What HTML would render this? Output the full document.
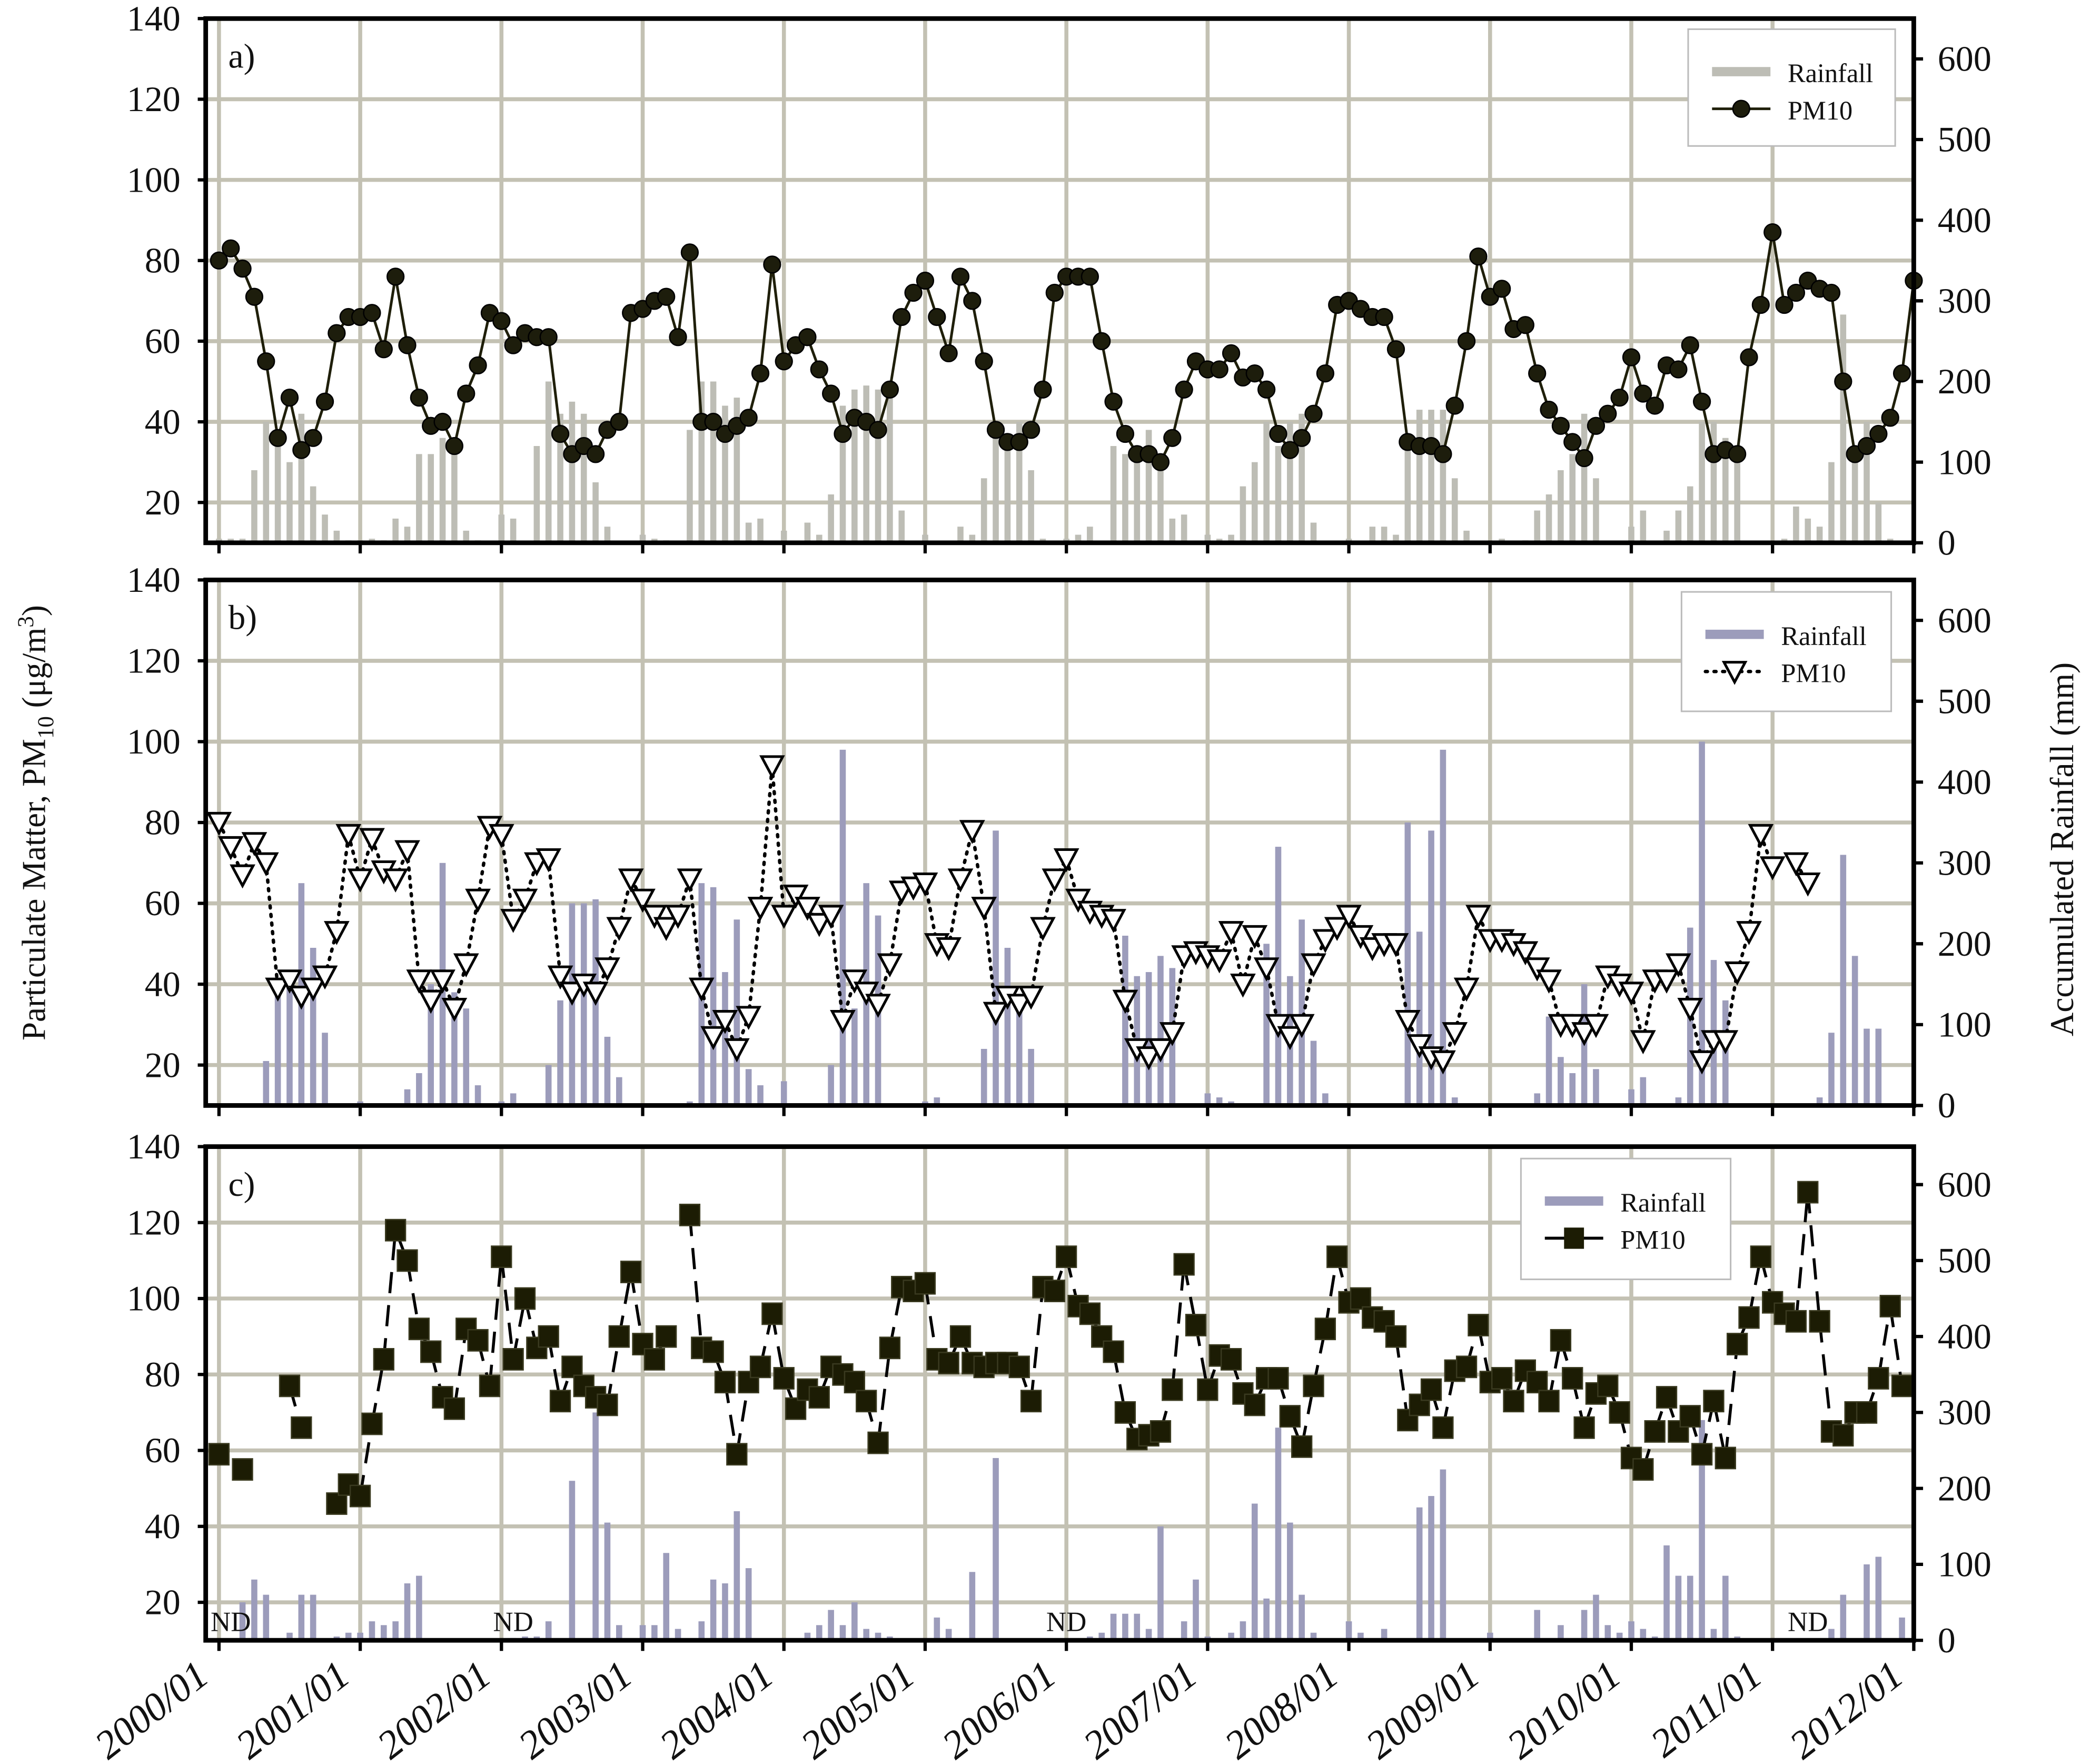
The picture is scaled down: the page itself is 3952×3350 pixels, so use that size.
<!DOCTYPE html>
<html><head><meta charset="utf-8"><style>
html,body{margin:0;padding:0;background:#fff}
svg{display:block}
text{font-family:"Liberation Serif",serif;fill:#111}
</style></head><body>
<svg id="chart" width="3952" height="3350" viewBox="0 0 1568 1329.2" preserveAspectRatio="none" xmlns="http://www.w3.org/2000/svg">
<g id="layer"></g>
<text transform="translate(34,620) rotate(-90)" text-anchor="middle" font-size="25">Particulate Matter, PM<tspan font-size="17" dy="6">10</tspan><tspan dy="-6"> (μg/m</tspan><tspan font-size="17" dy="-9">3</tspan><tspan dy="9">)</tspan></text>
<text transform="translate(1562,640) rotate(-90)" text-anchor="middle" font-size="25">Accumulated Rainfall (mm)</text>
</svg>
<script>
// ---- data: months 2000/01 .. 2012/01 (145 points) ----
const yearLabels = ["2000/01","2001/01","2002/01","2003/01","2004/01","2005/01","2006/01","2007/01","2008/01","2009/01","2010/01","2011/01","2012/01"];
const leftTicks = [20,40,60,80,100,120,140];
const rightTicks = [0,100,200,300,400,500,600];
const pmA = [80,83,78,71,55,36,46,33,36,45,62,66, 66,67,58,76,59,46,39,40,34,47,54,67, 65,59,62,61,61,37,32,34,32,38,40,67, 68,70,71,61,82,40,40,37,39,41,52,79, 55,59,61,53,47,37,41,40,38,48,66,72, 75,66,57,76,70,55,38,35,35,38,48,72, 76,76,76,60,45,37,32,32,30,36,48,55, 53,53,57,51,52,48,37,33,36,42,52,69, 70,68,66,66,58,35,34,34,32,44,60,81, 71,73,63,64,52,43,39,35,31,39,42,46, 56,47,44,54,53,59,45,32,33,32,56,69, 87,69,72,75,73,72,50,32,34,37,41,52, 75];
const rainA = [5,5,5,90,150,130,100,160,70,35,15,3, 3,5,3,30,20,110,110,130,125,15,3,0, 35,30,0,120,200,160,175,160,75,20,0,0, 10,5,3,0,140,200,200,170,180,25,30,0, 15,0,25,10,60,170,190,195,190,180,40,0, 10,0,0,20,10,80,150,130,150,90,5,0, 5,10,20,0,120,110,110,140,90,30,35,0, 10,5,10,70,100,150,120,150,160,25,0,0, 5,0,20,20,10,130,165,165,165,80,15,0, 0,5,0,3,40,60,90,110,160,80,0,0, 20,40,0,15,40,70,150,150,130,120,0,0, 0,5,45,30,20,100,283,100,150,50,5,0, 0];
const pmB = [80,74,67,75,70,39,41,37,39,42,53,77, 66,76,68,66,73,41,36,41,34,45,61,79, 77,56,61,70,71,42,38,40,38,44,54,66, 61,57,54,57,66,39,27,31,24,32,59,94, 57,62,59,55,57,31,41,38,35,45,63,64, 65,50,49,66,78,59,33,37,35,37,54,66, 71,61,58,57,56,36,24,22,24,28,47,48, 47,46,53,40,52,44,30,27,30,45,51,54, 57,52,49,50,50,31,25,22,21,28,39,57, 51,51,50,48,44,41,30,30,28,30,42,40, 38,26,41,41,45,34,21,26,26,43,53,77, 69,null,70,65,null,null,null,null,null,null,null,null, null];
const rainB = [0,0,0,0,55,150,150,275,195,90,0,0, 5,0,0,0,20,40,150,300,140,120,25,0, 5,15,0,0,50,130,250,250,255,85,35,0, 0,0,0,0,5,275,270,165,230,45,25,0, 30,0,0,0,50,440,120,275,235,0,0,0, 5,10,0,0,0,70,340,195,130,70,0,0, 0,0,0,0,0,210,160,165,185,170,0,0, 15,10,5,0,0,200,320,160,230,80,15,0, 0,0,0,0,0,350,215,340,440,10,0,0, 0,0,0,0,15,110,60,40,150,45,0,0, 20,35,0,0,10,220,450,180,130,0,0,0, 0,0,0,0,10,90,310,185,95,95,0,0, 0];
const pmC = [59,null,55,null,null,null,77,66,null,null,46,51, 48,67,84,118,110,92,86,74,71,92,89,77, 111,84,100,87,90,73,82,77,74,72,90,107, 88,84,90,null,122,87,86,78,59,78,82,96, 79,71,76,74,82,80,78,73,62,87,103,102, 104,84,83,90,83,82,83,83,82,73,103,102, 111,98,96,90,86,70,63,64,65,76,109,93, 76,85,84,75,72,79,79,69,61,77,92,111, 99,100,95,94,90,68,72,76,66,81,82,93, 78,79,73,81,78,73,89,79,66,75,77,70, 58,55,65,74,65,69,59,73,58,88,95,111, 99,96,94,128,94,65,64,70,70,79,98,77, null];
const rainC = [0,0,50,80,60,0,10,60,60,0,5,10, 10,25,20,25,75,85,0,0,0,0,0,0, 0,3,5,5,25,0,210,0,300,155,20,0, 20,20,115,15,0,25,80,75,170,95,0,0, 0,0,10,20,40,20,50,15,10,5,0,0, 0,30,15,0,90,0,240,0,0,0,0,0, 0,0,5,10,35,35,35,15,150,0,25,80, 5,0,10,25,180,55,280,155,60,10,0,0, 25,10,0,15,0,0,175,190,225,0,0,0, 10,0,0,0,40,0,20,0,40,60,20,10, 25,15,5,125,85,85,290,15,85,5,0,0, 0,0,0,0,0,15,60,0,100,110,0,30, 0];
const ndLabels = [[1,"ND"],[25,"ND"],[72,"ND"],[135,"ND"]];

const NS="http://www.w3.org/2000/svg";
const layer=document.getElementById('layer');
function mk(tag,attrs,parent){const e=document.createElementNS(NS,tag);for(const k in attrs)e.setAttribute(k,attrs[k]);(parent||layer).appendChild(e);return e;}
const X0=165, XL=155, XR=1442, MW=(1442-165)/144;
function xm(i){return X0+i*MW;}

const panels=[
 {key:'a',top:14,bot:409,pm:pmA,rain:rainA,rainCol:'#bdbdb5',label:'a)',leg:[1272,22,156,88],style:'circle'},
 {key:'b',top:437,bot:833,pm:pmB,rain:rainB,rainCol:'#9c9cbb',label:'b)',leg:[1267,446,158,90],style:'tri'},
 {key:'c',top:864,bot:1236,pm:pmC,rain:rainC,rainCol:'#9c9cbb',label:'c)',leg:[1146,873,158,91],style:'sq'}
];
panels.forEach(p=>{
 const yL=v=>p.bot-(v-10)*(p.bot-p.top)/130;
 const yR=v=>p.bot-v*(p.bot-p.top)/650;
 const g=mk('g',{});
 
 
 leftTicks.forEach(t=>{const l=mk('line',{x1:XL,x2:XR,y1:yL(t),y2:yL(t),stroke:'#c3c1b3','stroke-width':3},g);
  });
 yearLabels.forEach((lab,k)=>{const x=xm(k*12);const l=mk('line',{x1:x,x2:x,y1:p.top,y2:p.bot,stroke:'#c3c1b3','stroke-width':3},g);
  
  const t=mk('line',{x1:x,x2:x,y1:p.bot,y2:p.bot+8,stroke:'#000','stroke-width':2.5},g);
  });
 p.rain.forEach((v,i)=>{if(!v)return;const b=mk('rect',{x:xm(i)-2.3,y:yR(v),width:4.6,height:p.bot-yR(v),fill:p.rainCol},g);
  });
 const lineStyle={a:{stroke:'#1f1f0a','stroke-width':2},b:{stroke:'#000','stroke-width':2.6,'stroke-dasharray':'1.5 5','stroke-linecap':'round'},c:{stroke:'#000','stroke-width':2.2,'stroke-dasharray':'16 9'}}[p.key];
 for(let i=0;i<p.pm.length-1;i++){if(p.pm[i]==null||p.pm[i+1]==null)continue;
  const s=mk('line',Object.assign({x1:xm(i),y1:yL(p.pm[i]),x2:xm(i+1),y2:yL(p.pm[i+1])},lineStyle),g);
  }
 p.pm.forEach((v,i)=>{if(v==null)return;const x=xm(i),y=yL(v);let m;
  if(p.style==='circle')m=mk('circle',{cx:x,cy:y,r:6.3,fill:'#1d1d0c',stroke:'#000','stroke-width':1},g);
  else if(p.style==='tri')m=mk('polygon',{points:`${x-8},${y-7} ${x+8},${y-7} ${x},${y+8}`,fill:'#fff',stroke:'#000','stroke-width':2},g);
  else m=mk('rect',{x:x-7.5,y:y-8,width:15,height:16,fill:'#1c1c04',stroke:'#3a3a20','stroke-width':1},g);
  });
 const f=mk('rect',{x:XL,y:p.top,width:XR-XL,height:p.bot-p.top,fill:'none',stroke:'#000','stroke-width':3.5},g);
 
 leftTicks.forEach(t=>{const tl=mk('text',{x:136,y:yL(t)+9,'text-anchor':'end','font-size':27},g);tl.textContent=t;
  
  const tk=mk('line',{x1:XL-6,x2:XL,y1:yL(t),y2:yL(t),stroke:'#000','stroke-width':2.5},g);
  });
 rightTicks.forEach(t=>{const tl=mk('text',{x:1460,y:yR(t)+9,'text-anchor':'start','font-size':27},g);tl.textContent=t;
  
  const tk=mk('line',{x1:XR,x2:XR+7,y1:yR(t),y2:yR(t),stroke:'#000','stroke-width':2.5},g);
  });
 const pl=mk('text',{x:172,y:p.top+37,'font-size':26},g);pl.textContent=p.label;
 
 const [lx,ly,lw,lh]=p.leg;
 const lg=mk('g',{},g);
 
 mk('rect',{x:lx,y:ly,width:lw,height:lh,fill:'#fff',stroke:'#bbb','stroke-width':1.2},lg);
 mk('line',{x1:lx+18,x2:lx+62,y1:ly+32,y2:ly+32,stroke:p.rainCol,'stroke-width':7},lg);
 const t1=mk('text',{x:lx+75,y:ly+40,'font-size':20},lg);t1.textContent='Rainfall';
 
 const ly2=ly+60;
 mk('line',Object.assign({x1:lx+18,x2:lx+62,y1:ly2,y2:ly2},lineStyle,{'stroke-dasharray':p.key==='b'?'1.5 5':'none'}),lg);
 const cx=lx+40;
 if(p.style==='circle')mk('circle',{cx:cx,cy:ly2,r:6.3,fill:'#1d1d0c',stroke:'#000'},lg);
 else if(p.style==='tri')mk('polygon',{points:`${cx-8},${ly2-7} ${cx+8},${ly2-7} ${cx},${ly2+8}`,fill:'#fff',stroke:'#000','stroke-width':2},lg);
 else mk('rect',{x:cx-7.5,y:ly2-8,width:15,height:16,fill:'#1c1c04'},lg);
 const t2=mk('text',{x:lx+75,y:ly2+8,'font-size':20},lg);t2.textContent='PM10';
 
});
ndLabels.forEach(([i,s])=>{const t=mk('text',{x:xm(i),y:1229,'text-anchor':'middle','font-size':21});t.textContent=s;
 });
yearLabels.forEach((lab,k)=>{const x=xm(k*12)-6;const t=mk('text',{transform:`translate(${x},1266) rotate(-38)`,'text-anchor':'end','font-size':30,'font-style':'italic'});t.textContent=lab;
 });
</script>
</body></html>
